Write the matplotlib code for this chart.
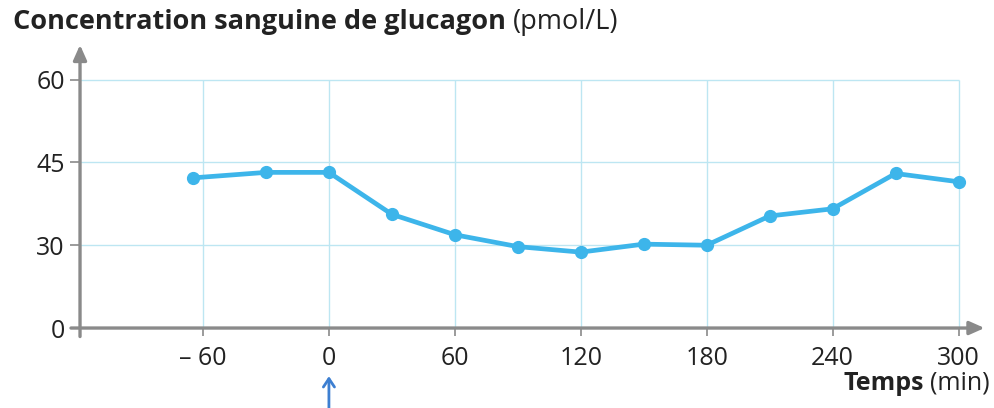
import matplotlib.pyplot as plt
import numpy as np

# Données
temps = [-65, -30, 0, 30, 60, 90, 120, 150, 180, 210, 240, 270, 300]
glucagon = [42.2, 43.2, 43.2, 35.6, 31.9, 29.5, 27.5, 30.2, 30.0, 35.3, 36.6, 43.0, 41.5]
x_ticks = [-60, 0, 60, 120, 180, 240, 300]
x_labels = ['– 60', '0', '60', '120', '180', '240', '300']
y_ticks = [0, 30, 45, 60]
y_grid = [30, 45, 60]

plt.rcParams['font.family'] = ['Open Sans', 'DejaVu Sans']

grey = '#8a8a8a'
grid_col = '#bde6f2'
line_col = '#3db5ea'
txt = '#222222'


# axe vertical coupé : 0-30 compressé
def forward(v):
    v = np.asarray(v, dtype=float)
    return np.where(v < 30, v / 30, 1 + (v - 30) / 15)


def inverse(u):
    u = np.asarray(u, dtype=float)
    return np.where(u < 1, u * 30, 30 + (u - 1) * 15)


fig = plt.figure(figsize=(9.94, 4.08), dpi=100)
ax = fig.add_axes([0.0805, 0.196, 0.91, 0.694])
ax.set_yscale('function', functions=(forward, inverse))
ax.set_xlim(-118.6, 312.4)
ax.set_ylim(0, 66.3)

# quadrillage
ax.vlines(x_ticks, 0, 60, color=grid_col, lw=1.0, zorder=1)
ax.hlines(y_grid, -118.6, 300, color=grid_col, lw=1.0, zorder=1)

ax.plot(temps, glucagon, color=line_col, lw=3.4, marker='o', ms=8.5, zorder=3)

for s in ax.spines.values():
    s.set_visible(False)

# axes avec flèches
ax.annotate('', xy=(1.0, 0), xytext=(-0.01, 0), xycoords='axes fraction',
            arrowprops=dict(arrowstyle='-|>,head_length=0.9,head_width=0.4',
                            color=grey, lw=2.4, shrinkA=0, shrinkB=0))
ax.annotate('', xy=(0, 1.0), xytext=(0, -0.03), xycoords='axes fraction',
            arrowprops=dict(arrowstyle='-|>,head_length=0.9,head_width=0.4',
                            color=grey, lw=2.4, shrinkA=0, shrinkB=0))

ax.set_xticks(x_ticks)
ax.set_xticklabels(x_labels)
ax.set_yticks(y_ticks)
ax.set_yticklabels([str(v) for v in y_ticks])
ax.tick_params(axis='x', length=6, width=1.2, color=grey, pad=7,
               labelsize=18, labelcolor=txt)
ax.tick_params(axis='y', length=7, width=1.2, color=grey, pad=4,
               labelsize=18, labelcolor=txt)

fig.canvas.draw()
r = fig.canvas.get_renderer()
inv = fig.transFigure.inverted()

# titre de l'axe vertical
t1 = fig.text(0.013, 0.928, 'Concentration sanguine de glucagon', fontsize=19.5,
              fontweight='bold', color=txt, ha='left', va='baseline')
x1 = inv.transform((t1.get_window_extent(r).x1, 0))[0]
fig.text(x1 + 0.007, 0.928, '(pmol/L)', fontsize=19.5, color=txt,
         ha='left', va='baseline')

# titre de l'axe horizontal
t2 = fig.text(0.996, 0.045, '(min)', fontsize=18, color=txt,
              ha='right', va='baseline')
x2 = inv.transform((t2.get_window_extent(r).x0, 0))[0]
fig.text(x2 - 0.006, 0.045, 'Temps', fontsize=18, fontweight='bold',
         color=txt, ha='right', va='baseline')

# flèche d'injection à t = 0
ax.annotate('', xy=(0, -0.17), xytext=(0, -0.29),
            xycoords=('data', 'axes fraction'),
            arrowprops=dict(arrowstyle='->,head_length=0.6,head_width=0.4',
                            color='#3d7fd1', lw=2.0, shrinkA=0, shrinkB=0),
            annotation_clip=False)

plt.savefig('out.png', dpi=100)
plt.close()
